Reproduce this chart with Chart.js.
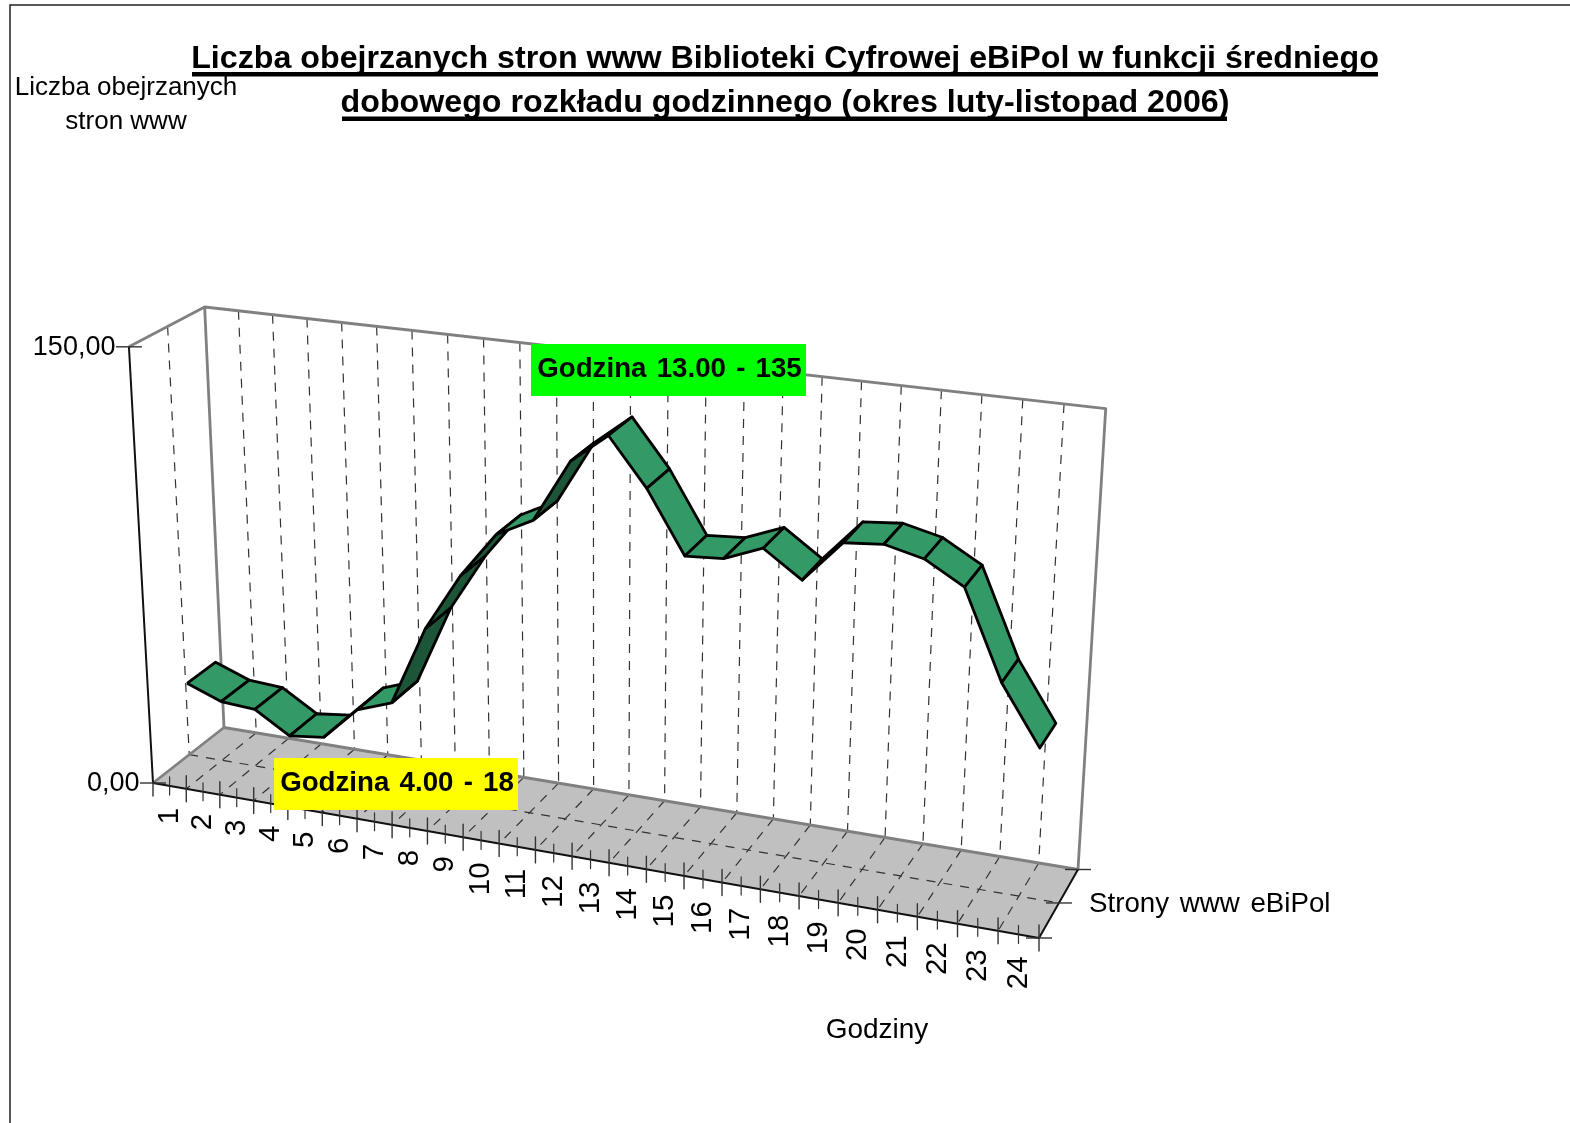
<!DOCTYPE html>
<html lang="pl">
<head>
<meta charset="utf-8">
<title>Liczba obejrzanych stron www</title>
<script src="https://cdn.jsdelivr.net/npm/chart.js@4"></script>
<style>
  html, body { margin: 0; padding: 0; background: #fff; }
  canvas { display: block; }
</style>
</head>
<body>
<canvas id="chart" width="1570" height="1123"></canvas>
<script>
// ----------------- Data -----------------
const hours = [1, 2, 3, 4, 5, 6, 7, 8, 9, 10, 11, 12, 13, 14, 15, 16, 17, 18, 19, 20, 21, 22, 23, 24];
const pageViews = [30.9, 26.3, 25.5, 18, 19.5, 31.2, 35.6, 63.1, 82.7, 98.2, 104.5, 125.2, 135, 119.7, 99.6, 100.5, 105.5, 97, 110.6, 111.8, 108.9, 101.8, 73.4, 54.4];
const valueTicks = [0, 150];
const valueTickLabels = ['0,00', '150,00'];
const titleLines = [
  'Liczba obejrzanych stron www Biblioteki Cyfrowej eBiPol w funkcji średniego',
  'dobowego rozkładu godzinnego (okres luty-listopad 2006)'
];
const valueAxisTitle = ['Liczba obejrzanych', 'stron www'];
const hourAxisTitle = 'Godziny';
const seriesName = 'Strony www eBiPol';
const minLabel = 'Godzina 4.00 - 18';
const maxLabel = 'Godzina 13.00 - 135';

// ----------------- Projection (Excel style 3D box) -----------------
const valueMax = 150;
const ribbonFront = 0.3, ribbonBack = 0.7;
const corner = {
  A: [153, 783], B: [1039, 938], C: [1078, 869.5], D: [224, 727.5],
  E: [206, 307]
};
const vanish = [598, 8850];

const cam = (() => {
  const [x0, y0] = corner.A, [x1, y1] = corner.B, [x2, y2] = corner.C, [x3, y3] = corner.D;
  const dx1 = x1 - x2, dx2 = x3 - x2, sx = x0 - x1 + x2 - x3;
  const dy1 = y1 - y2, dy2 = y3 - y2, sy = y0 - y1 + y2 - y3;
  const den = dx1 * dy2 - dx2 * dy1;
  const g = (sx * dy2 - dx2 * sy) / den, h = (dx1 * sy - sx * dy1) / den;
  const m = {
    a: x1 - x0 + g * x1, b: x3 - x0 + h * x3, c: x0,
    d: y1 - y0 + g * y1, e: y3 - y0 + h * y3, f: y0, g, h
  };
  // height column taken from the back left wall edge
  const Y = m.e + m.f, W = m.h + 1;
  m.k = (corner.E[1] * W - Y) / (vanish[1] - corner.E[1]);
  return m;
})();

// u along the hours, v into the depth, w up the wall (all 0..1)
function project(u, v, w) {
  const X = cam.a * u + cam.b * v + cam.c + w * cam.k * vanish[0];
  const Y = cam.d * u + cam.e * v + cam.f + w * cam.k * vanish[1];
  const W = cam.g * u + cam.h * v + 1 + w * cam.k;
  return { x: X / W, y: Y / W };
}
const hourU = h => (h - 0.5) / hours.length;
const edgeU = k => k / hours.length;

// ----------------- Datasets -----------------
const datasets = [];
function addLine(points, color, width, dash, fillColor) {
  datasets.push({
    data: points, showLine: true, tension: 0, pointRadius: 0,
    borderColor: color, borderWidth: width, borderDash: dash || [],
    borderJoinStyle: 'round', borderCapStyle: 'butt',
    polyFill: fillColor || null, order: -datasets.length
  });
}
const GRID = '#333333', WALL = '#808080', AXIS = '#111111';
const DASH = [9, 8];

// floor
const p00 = project(0, 0, 0), p10 = project(1, 0, 0), p11 = project(1, 1, 0), p01 = project(0, 1, 0);
addLine([p00, p10, p11, p01, p00], '#c0c0c0', 0.5, null, '#c0c0c0');

// grid lines on the floor, back wall and left wall
for (let k = 1; k < hours.length; k++) {
  addLine([project(edgeU(k), 1, 1), project(edgeU(k), 1, 0)], GRID, 1.2, DASH);
  addLine([project(edgeU(k), 1, 0), project(edgeU(k), 0, 0)], GRID, 1.2, DASH);
}
addLine([project(0, 0.5, 1), project(0, 0.5, 0)], GRID, 1.2, DASH);
addLine([project(0, 0.5, 0), project(1, 0.5, 0)], GRID, 1.2, DASH);

// wall edges
addLine([project(0, 0, 1), project(0, 1, 1), project(1, 1, 1), project(1, 1, 0), project(0, 1, 0), project(0, 0, 0)], WALL, 2.8);
addLine([project(0, 1, 1), project(0, 1, 0)], WALL, 2.8);

// axes
addLine([project(0, 0, 1), project(0, 0, 0), project(1, 0, 0), project(1, 1, 0)], AXIS, 2);

// ticks along the hours: long on boundaries, short on centres
for (let k = 0; k <= hours.length; k++) {
  const p = project(edgeU(k), 0, 0);
  addLine([{ x: p.x, y: p.y - (k ? 13 : 0) }, { x: p.x, y: p.y + 13 }], GRID, 1.4);
}
hours.forEach(h => {
  const p = project(hourU(h), 0, 0);
  addLine([{ x: p.x, y: p.y - 9 }, { x: p.x, y: p.y + 9 }], GRID, 1.2);
});
// ticks on the value axis and the depth axis
valueTicks.forEach(t => {
  const p = project(0, 0, t / valueMax);
  addLine([{ x: p.x - 13, y: p.y }, { x: p.x + 13, y: p.y }], GRID, 1.4);
});
[0, 0.5, 1].forEach(v => {
  const p = project(1, v, 0);
  addLine([{ x: p.x - 13, y: p.y }, { x: p.x + 13, y: p.y }], GRID, 1.4);
});

// ribbon, one quad per hour step; underside shows when the quad flips
for (let i = 0; i < pageViews.length - 1; i++) {
  const w1 = pageViews[i] / valueMax, w2 = pageViews[i + 1] / valueMax;
  const u1 = hourU(hours[i]), u2 = hourU(hours[i + 1]);
  const f1 = project(u1, ribbonFront, w1), b1 = project(u1, ribbonBack, w1);
  const f2 = project(u2, ribbonFront, w2), b2 = project(u2, ribbonBack, w2);
  const flip = (b1.x - f1.x) * (f2.y - f1.y) - (b1.y - f1.y) * (f2.x - f1.x) < 0;
  addLine([f1, b1, b2, f2, f1], '#000000', 2.8, null, flip ? '#1d5538' : '#339966');
}

// ----------------- Plugins -----------------
const polyFillPlugin = {
  id: 'polyFill',
  beforeDatasetDraw(chart, args) {
    const ds = chart.data.datasets[args.index];
    if (!ds.polyFill) return;
    const pts = args.meta.data;
    const c = chart.ctx;
    c.save();
    c.beginPath();
    pts.forEach((p, i) => i ? c.lineTo(p.x, p.y) : c.moveTo(p.x, p.y));
    c.closePath();
    c.fillStyle = ds.polyFill;
    c.fill();
    c.restore();
  }
};

const FONT = '"Liberation Sans", Arial, sans-serif';
function text(c, str, x, y, font, align, word) {
  c.font = font + ' ' + FONT;
  c.textAlign = align || 'center';
  c.textBaseline = 'middle';
  c.wordSpacing = word || '0px';
  c.fillStyle = '#000';
  c.fillText(str, x, y);
}
function labelBox(c, str, x, y, w, h, color) {
  c.fillStyle = color;
  c.fillRect(x, y, w, h);
  text(c, str, x + w / 2 + 1, y + h / 2 - 1, 'bold 27.7px', 'center', '2.5px');
}

const textPlugin = {
  id: 'texts',
  afterDatasetsDraw(chart) {
    const c = chart.ctx;
    c.save();
    // page frame
    c.strokeStyle = '#222';
    c.lineWidth = 1.5;
    c.beginPath();
    c.moveTo(10, 1123); c.lineTo(10, 5); c.lineTo(1570, 5);
    c.stroke();

    // title with underline
    [[59, 72, 192, 1378], [103, 116.5, 342, 1227]].forEach((t, i) => {
      text(c, titleLines[i], 785, t[0], 'bold 32.2px');
      c.fillStyle = '#000';
      c.fillRect(t[2], t[1], t[3] - t[2], 4.5);
    });
    text(c, valueAxisTitle[0], 126, 88, '26px');
    text(c, valueAxisTitle[1], 126, 122, '26px');

    valueTicks.forEach((t, i) => {
      const p = project(0, 0, t / valueMax);
      text(c, valueTickLabels[i], p.x - 13.5, p.y + 1, '27px', 'right');
    });
    hours.forEach(h => {
      const p = project(hourU(h), 0, 0);
      c.save();
      c.translate(p.x, p.y + 22);
      c.rotate(-Math.PI / 2);
      text(c, String(h), 0, 0, '29.5px', 'right');
      c.restore();
    });
    text(c, seriesName, 1089, 904.5, '27.7px', 'left', '3px');
    text(c, hourAxisTitle, 877, 1030, '28px');

    labelBox(c, maxLabel, 531, 344, 275, 52, '#00ff00');
    labelBox(c, minLabel, 274, 758, 244, 52, '#ffff00');
    c.restore();
  }
};

// ----------------- Chart Setup -----------------
new Chart(document.getElementById('chart').getContext('2d'), {
  type: 'scatter',
  data: { datasets },
  options: {
    responsive: false,
    animation: false,
    devicePixelRatio: 1,
    layout: { padding: 0 },
    plugins: { legend: { display: false }, tooltip: { enabled: false } },
    scales: {
      x: { type: 'linear', display: false, min: 0, max: 1570 },
      y: { type: 'linear', display: false, min: 0, max: 1123, reverse: true }
    }
  },
  plugins: [polyFillPlugin, textPlugin]
});
</script>
</body>
</html>
